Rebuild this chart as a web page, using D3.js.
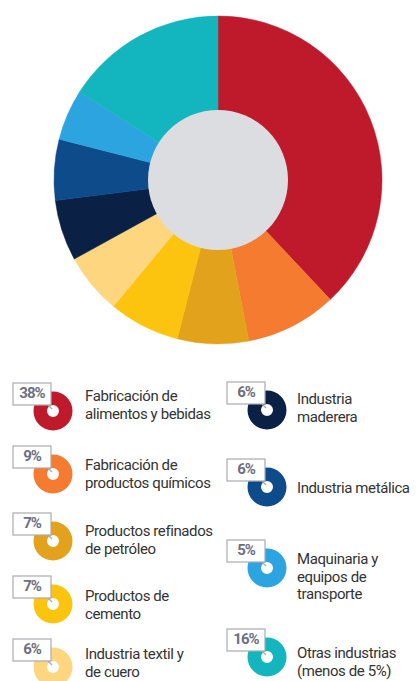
<!DOCTYPE html>
<html><head><meta charset="utf-8">
<script src="https://cdn.jsdelivr.net/npm/d3@7"></script>
<style>
html,body{margin:0;padding:0;background:#fff;}
svg{display:block;}
</style></head>
<body>
<script>
const categories = [
  "Fabricación de alimentos y bebidas",
  "Fabricación de productos químicos",
  "Productos refinados de petróleo",
  "Productos de cemento",
  "Industria textil y de cuero",
  "Industria maderera",
  "Industria metálica",
  "Maquinaria y equipos de transporte",
  "Otras industrias (menos de 5%)"
];
const values = [38, 9, 7, 7, 6, 6, 6, 5, 16];
const labelLines = [
  ["Fabricación de", "alimentos y bebidas"],
  ["Fabricación de", "productos químicos"],
  ["Productos refinados", "de petróleo"],
  ["Productos de", "cemento"],
  ["Industria textil y", "de cuero"],
  ["Industria", "maderera"],
  ["Industria metálica"],
  ["Maquinaria y", "equipos de", "transporte"],
  ["Otras industrias", "(menos de 5%)"]
];
const colors = ["#be1a2c","#f47b30","#e2a21c","#fcc30f","#fdd67f","#0b2045","#0d4b8b","#2ba4e0","#13b5bf"];

// layout
const W = 416, H = 681;
const cx = 218, cy = 180, rOuter = 164, rInner = 70;
const legendCol = [0,0,0,0,0,1,1,1,1];
const legendIconY = [411, 474, 541, 604, 667, 410, 487, 568, 657];
const legendTextY = [406, 475, 541, 606, 664, 409, 489, 578, 663];
const colIconX = [53, 267];
const colTextX = [85, 297];

const svg = d3.select("body").append("svg").attr("width", W).attr("height", H);

const pie = d3.pie().sort(null).value(d => d)(values);
const arc = d3.arc().innerRadius(rInner - 2).outerRadius(rOuter);

const g = svg.append("g").attr("transform", `translate(${cx},${cy})`);
g.selectAll("path").data(pie).join("path")
  .attr("d", arc)
  .attr("fill", (d, i) => colors[i])
  .attr("stroke", (d, i) => colors[i]).attr("stroke-width", 0.5);
g.append("circle").attr("r", rInner).attr("fill", "#dcdde1");

// legend
const iconArc = d3.arc().innerRadius(6).outerRadius(19.5).startAngle(0).endAngle(2 * Math.PI);
const leg = svg.append("g");
categories.forEach((c, i) => {
  const col = legendCol[i];
  const x = colIconX[col], y = legendIconY[i];
  const item = leg.append("g");
  item.append("path").attr("d", iconArc()).attr("transform", `translate(${x},${y})`).attr("fill", colors[i]);
  // label box
  const bw = 38, bh = 22;
  const bx = x - 40, by = y - 28;
  item.append("rect").attr("x", bx).attr("y", by).attr("width", bw).attr("height", bh)
    .attr("fill", "#fff").attr("stroke", "#a9abb0").attr("stroke-width", 1.2);
  item.append("line").attr("x1", bx + bw - 3).attr("y1", by + bh).attr("x2", bx + bw + 1).attr("y2", by + bh + 4)
    .attr("stroke", "#a9abb0").attr("stroke-width", 1.2);
  item.append("text").attr("x", bx + bw / 2).attr("y", by + bh / 2 + 0.5)
    .attr("text-anchor", "middle").attr("dominant-baseline", "middle")
    .attr("font-family", "Roboto, 'Liberation Sans', sans-serif").attr("font-weight", "bold")
    .attr("font-size", 15).attr("fill", "#6c6f7e").attr("letter-spacing", -1)
    .text(values[i] + "%");
  // text
  const lines = labelLines[i];
  const lh = 17.5;
  const t0 = legendTextY[i] - (lines.length - 1) * lh / 2;
  const t = item.append("text").attr("font-family", "Roboto, 'Liberation Sans', sans-serif")
    .attr("font-size", 15).attr("fill", "#333").attr("letter-spacing", -0.4);
  lines.forEach((l, k) => {
    t.append("tspan").attr("x", colTextX[col]).attr("y", t0 + k * lh).attr("dominant-baseline", "middle").text(l);
  });
});
</script>
</body></html>
